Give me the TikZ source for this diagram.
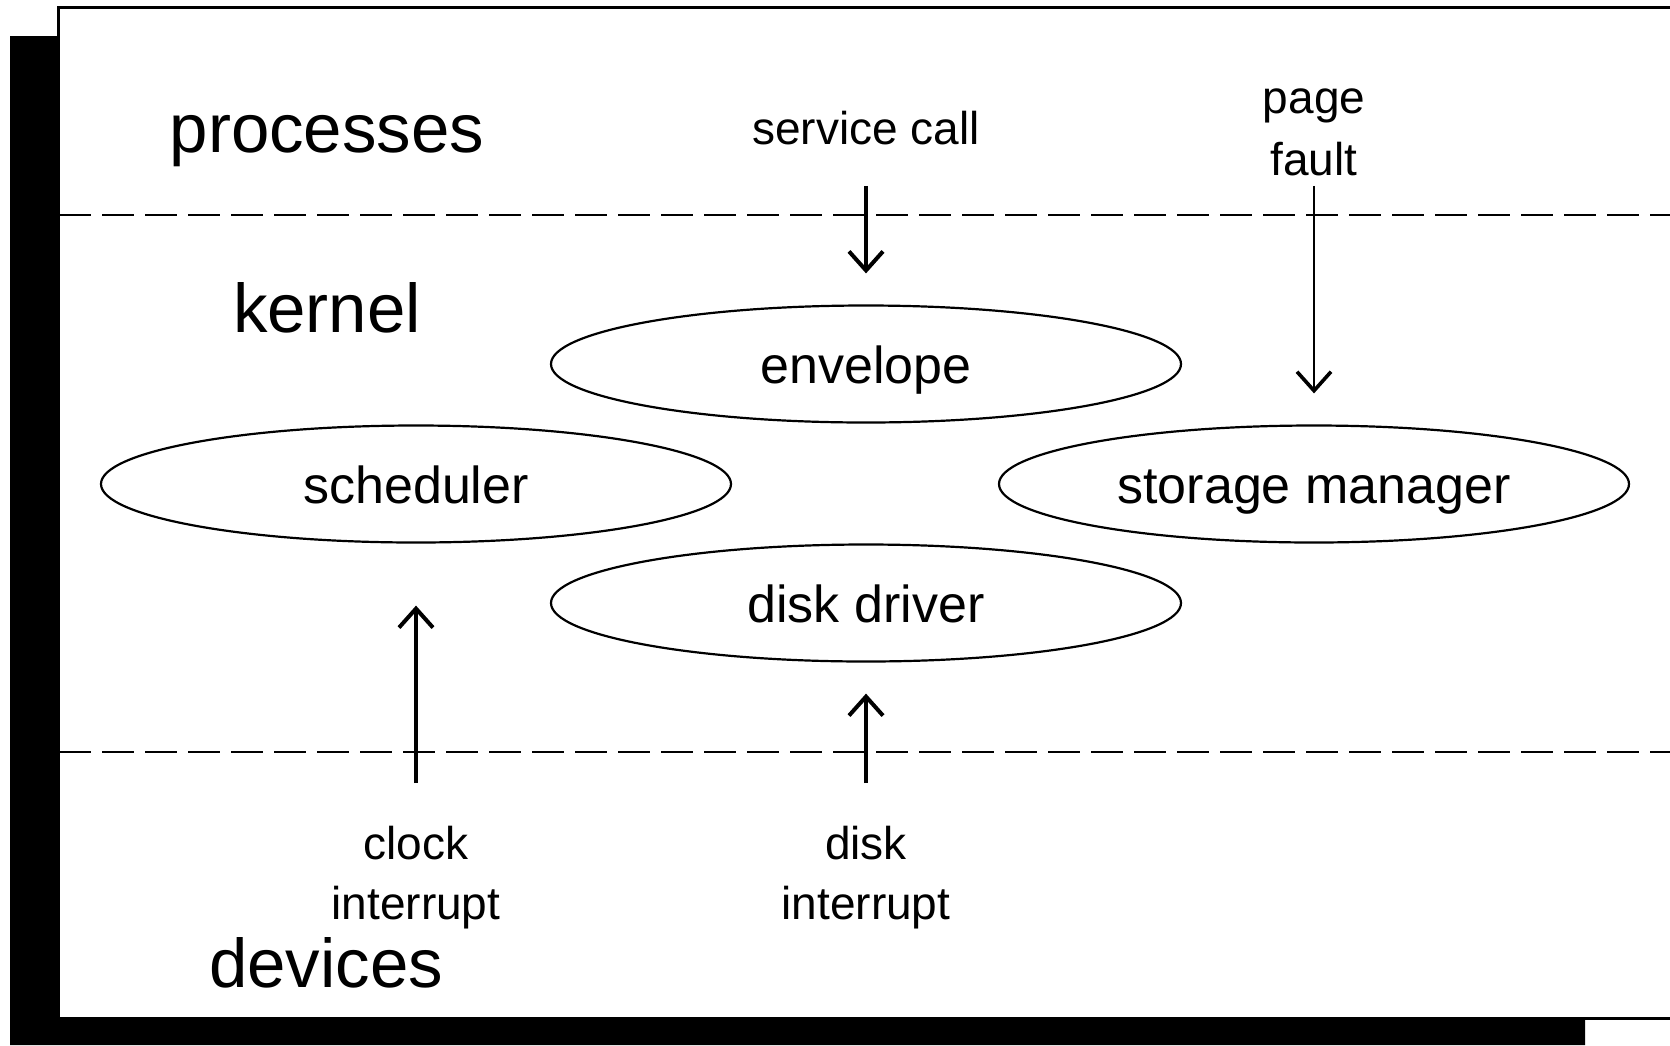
\documentclass[tikz,border=0pt]{standalone}
\usepackage{fontspec}
\setmainfont{Liberation Sans}
\usetikzlibrary{shapes.geometric,arrows.meta}

\tikzset{
  layer/.style={font=\fontsize{69}{80}\selectfont, inner sep=0pt,
    text height=50pt, text depth=0pt},
  label/.style={font=\fontsize{46}{54}\selectfont, inner sep=0pt,
    text height=33.5pt, text depth=0pt},
  module/.style={ellipse, draw, line width=2.2pt, minimum width=630pt,
    minimum height=117pt, inner sep=0pt, font=\fontsize{52}{60}\selectfont,
    text height=38pt, text depth=0pt},
  boundary/.style={line width=1.6pt, dash pattern=on 32pt off 11pt},
  event/.style={line width=4pt, -{Straight Barb[length=19pt,width=34pt,line width=4pt]}},
  thinevent/.style={line width=2pt, -{Straight Barb[length=19pt,width=34pt,line width=3.6pt]}}
}

\begin{document}
\begin{tikzpicture}[x=1pt,y=-1pt]
  \useasboundingbox (0,0) rectangle (1670,1045);
  \clip (0,0) rectangle (1670,1045);

  % drop shadow and frame
  \fill[black] (10,36) -- (58,36) -- (58,1018) -- (1585,1018) -- (1585,1045) -- (10,1045) -- cycle;
  \draw[line width=3pt, fill=white] (58,7) rectangle (1700,1018);

  % layer boundaries
  \draw[boundary] (59,215) -- (1670,215);
  \draw[boundary] (59,752) -- (1670,752);

  % layer names
  \node[layer] (proc) at (327,127) {processes};
  \node[layer] (kern) at (327,307) {kernel};
  \node[layer] (dev)  at (326,962) {devices};

  % kernel modules
  \node[module] (env)  at (866,364) {envelope};
  \node[module] (sch)  at (416,484) {scheduler};
  \node[module] (stor) at (1314,484) {storage manager};
  \node[module] (dd)   at (866,603) {disk driver};

  % event labels
  \node[label] (svc)   at (866,128) {service call};
  \node[label] (page)  at (1314,97) {page};
  \node[label] (fault) at (1314,159) {fault};
  \node[label] (clock) at (416,843) {clock};
  \node[label] (cint)  at (416,903) {interrupt};
  \node[label] (disk)  at (866,843) {disk};
  \node[label] (dint)  at (866,903) {interrupt};

  % entries into the kernel
  \draw[event, shorten <=41pt, shorten >=31pt] (svc) -- (env);
  \draw[thinevent, shorten <=10pt, shorten >=31pt] (fault) -- (stor);
  \draw[event, shorten <=43pt, shorten >=62pt] (clock) -- (sch);
  \draw[event, shorten <=43pt, shorten >=31pt] (disk) -- (dd);
\end{tikzpicture}
\end{document}
